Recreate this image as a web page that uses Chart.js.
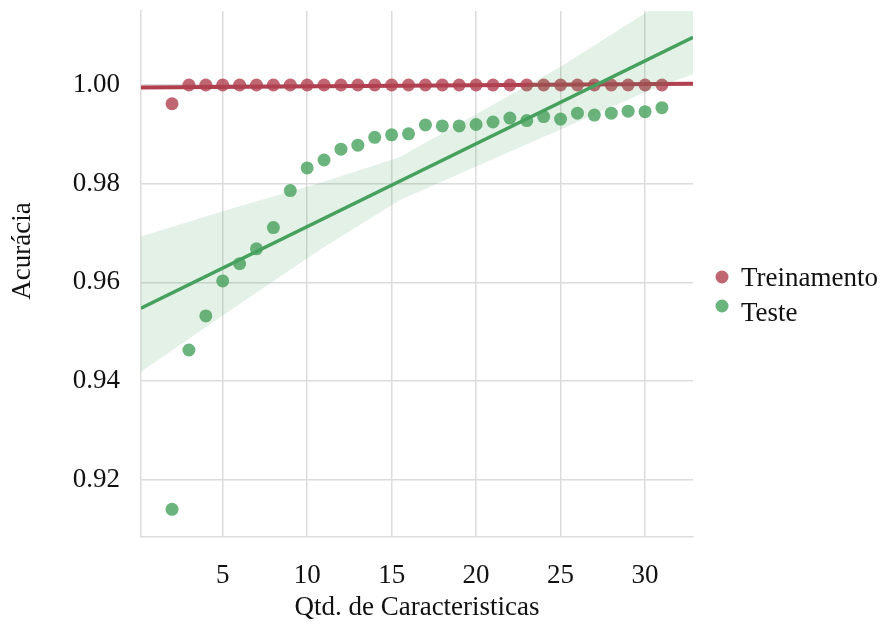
<!DOCTYPE html>
<html><head><meta charset="utf-8">
<script src="https://cdn.jsdelivr.net/npm/chart.js@4.4.0/dist/chart.umd.min.js"></script>
<style>html,body{margin:0;padding:0;background:#fff;} #wrap{width:884px;height:630px;position:relative;}</style>
</head><body><div id="wrap"><canvas id="c" width="884" height="630"></canvas></div>
<script>
// ---- data ----
const features = [2,3,4,5,6,7,8,9,10,11,12,13,14,15,16,17,18,19,20,21,22,23,24,25,26,27,28,29,30,31];
const treinamento = [0.9962,1.0,1.0,1.0,1.0,1.0,1.0,1.0,1.0,1.0,1.0,1.0,1.0,1.0,1.0,1.0,1.0,1.0,1.0,1.0,1.0,1.0,1.0,1.0,1.0,1.0,1.0,1.0,1.0,1.0];
const teste = [0.9140,0.9463,0.9532,0.9603,0.9638,0.9668,0.9711,0.9786,0.9832,0.9848,0.9870,0.9878,0.9894,0.9899,0.9901,0.9919,0.9917,0.9917,0.9920,0.9925,0.9933,0.9928,0.9936,0.9931,0.9943,0.9939,0.9943,0.9947,0.9946,0.9954];
const xTicks = [5,10,15,20,25,30];
const yTicks = [0.92,0.94,0.96,0.98,1.00];
// confidence band of the Teste regression
const bandX = [0.16,5,10.8,15.5,20,25,30.3,32.85];
const bandUpper = [0.9693,0.9744,0.9802,0.9854,0.9941,1.0037,1.0152,1.0207];
const bandLower = [0.9419,0.9533,0.9667,0.9767,0.9835,0.9910,0.9990,1.0022];
const seriesNames = ['Treinamento','Teste'];
const xTitle = 'Qtd. de Caracteristicas';
const yTitle = 'Acurácia';

const X_MIN = 0.163, X_MAX = 32.84, Y_MIN = 0.9084, Y_MAX = 1.0150;
const RED = '#b0404f', RED_PT = 'rgba(176,64,79,0.8)';
const GREEN = '#47a15e', GREEN_PT = 'rgba(71,161,94,0.8)', GREEN_BAND = 'rgba(71,161,94,0.15)';
const GRID = '#dcdcdc';
const FONT = 'Liberation Serif, Times New Roman, serif';
const TXT = '#111111';

function fit(xs, ys){
  const n = xs.length; let mx=0,my=0; for(let i=0;i<n;i++){mx+=xs[i];my+=ys[i];} mx/=n; my/=n;
  let sxy=0,sxx=0; for(let i=0;i<n;i++){sxy+=(xs[i]-mx)*(ys[i]-my); sxx+=(xs[i]-mx)**2;}
  const b=sxy/sxx, a=my-b*mx; return x=>a+b*x;
}
const fRed = fit(features, treinamento), fGreen = fit(features, teste);
const zip = (xs, ys) => xs.map((x,i)=>({x, y: ys[i]}));

const legendPlugin = {
  id: 'customLegend',
  afterDraw(chart){
    const ctx = chart.ctx; ctx.save();
    const items = [[seriesNames[0], RED_PT, 277, 286], [seriesNames[1], GREEN_PT, 306, 321]];
    ctx.font = '27px ' + FONT; ctx.fillStyle = TXT; ctx.textBaseline = 'alphabetic'; ctx.textAlign = 'left';
    for (const [t, c, my, by] of items){
      ctx.beginPath(); ctx.fillStyle = c; ctx.arc(722, my, 6.5, 0, Math.PI*2); ctx.fill();
      ctx.fillStyle = TXT; ctx.fillText(t, 741, by);
    }
    ctx.translate(23, 251); ctx.rotate(-Math.PI/2);
    ctx.textAlign = 'center'; ctx.textBaseline = 'middle'; ctx.fillText(yTitle, 0, 0);
    ctx.restore();
  }
};

new Chart(document.getElementById('c'), {
  type: 'scatter',
  data: { datasets: [
    { type:'line', label:'band-up', data: zip(bandX, bandUpper), borderWidth:0, pointRadius:0, fill:false, order:0 },
    { type:'line', label:'band-low', data: zip(bandX, bandLower), borderWidth:0, pointRadius:0, fill:{target:0}, backgroundColor: GREEN_BAND, order:0 },
    { type:'line', label:'fit-teste', data: [{x:X_MIN,y:fGreen(X_MIN)},{x:X_MAX,y:fGreen(X_MAX)}], borderColor: GREEN, borderWidth:3.5, pointRadius:0, fill:false, order:1 },
    { label: seriesNames[1], data: zip(features, teste), backgroundColor: GREEN_PT, borderWidth:0, pointRadius:6.5, order:2 },
    { type:'line', label:'fit-treino', data: [{x:X_MIN,y:fRed(X_MIN)},{x:X_MAX,y:fRed(X_MAX)}], borderColor: RED, borderWidth:4, pointRadius:0, fill:false, order:3 },
    { label: seriesNames[0], data: zip(features, treinamento), backgroundColor: RED_PT, borderWidth:0, pointRadius:6.5, order:4 }
  ]},
  options: {
    responsive:false, animation:false, devicePixelRatio:1,
    layout: { padding: { left:10, right:191, top:11, bottom:0 } },
    plugins: { legend:{display:false}, tooltip:{enabled:false} },
    scales: {
      x: { type:'linear', min:X_MIN, max:X_MAX,
        afterBuildTicks: s => { s.ticks = xTicks.map(v=>({value:v})); },
        afterFit: s => { s.height = 93; s.paddingLeft = 0; s.paddingRight = 0; s.paddingTop = 0; s.paddingBottom = 0; },
        ticks: { font:{family:FONT,size:27}, color:TXT, padding:23, autoSkip:false, maxRotation:0, callback: v => String(v) },
        grid: { color:GRID, lineWidth:1.5, drawTicks:false },
        border: { display:true, color:GRID, width:1.5 },
        title: { display:true, text:xTitle, font:{family:FONT,size:27}, color:TXT, padding:{top:0,bottom:6} } },
      y: { type:'linear', min:Y_MIN, max:Y_MAX,
        afterBuildTicks: s => { s.ticks = yTicks.map(v=>({value:v})); },
        afterFit: s => { s.width = 131; s.paddingLeft = 0; s.paddingRight = 0; s.paddingTop = 0; s.paddingBottom = 0; },
        ticks: { font:{family:FONT,size:27}, color:TXT, padding:21, callback: v => v.toFixed(2) },
        grid: { color:GRID, lineWidth:1.5, drawTicks:false },
        border: { display:true, color:GRID, width:1.5 } }
    }
  },
  plugins: [legendPlugin]
});
</script></body></html>
